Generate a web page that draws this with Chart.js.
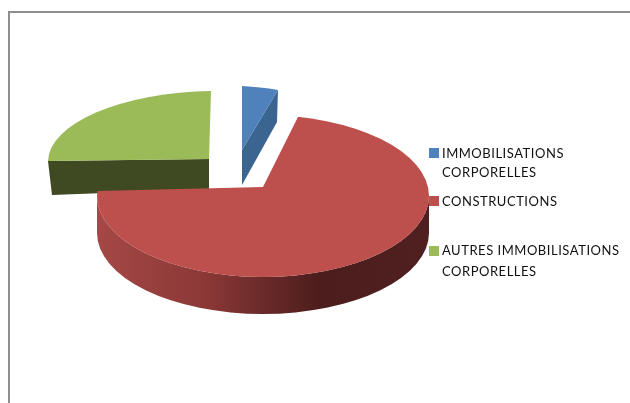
<!DOCTYPE html>
<html><head><meta charset="utf-8">
<style>html,body{margin:0;padding:0;background:#fff}canvas{display:block;filter:blur(0.4px)}</style>
<script src="https://cdn.jsdelivr.net/npm/chart.js@4"></script>
</head><body><canvas id="c" width="630" height="403"></canvas>
<script>
const categories = ['IMMOBILISATIONS CORPORELLES', 'CONSTRUCTIONS', 'AUTRES IMMOBILISATIONS CORPORELLES'];
const legendLines = [['IMMOBILISATIONS', 'CORPORELLES'], ['CONSTRUCTIONS'], ['AUTRES IMMOBILISATIONS', 'CORPORELLES']];
const values = [3.5, 71.5, 25];
const colors = ['#4F81BD', '#BD4F4C', '#9BBB59'];

// Projection of each exploded slice: apex, image of the x and y unit vectors, extruded depth
const proj = [
  {a:[242,150], ex:[165,11], ey:[0,64], depth:35, side:'#3A6591'},
  {a:[263,187], ex:[249,-6], ey:[0,110], depth:37, clip:{cx:263,cy:196,rx:166,ry:81}},
  {a:[209,159], ex:[161,-2], ey:[-2,68], depth:34, side:'#404A22'}
];
const legendPos = [
  {box:148, base:[158,177]},
  {box:196, base:[206]},
  {box:246, base:[255,276]}
];

function drawTop(ctx, arc, p){
  ctx.save();
  if (p.clip){ ctx.beginPath(); ctx.ellipse(p.clip.cx,p.clip.cy,p.clip.rx,p.clip.ry,0,0,Math.PI*2); ctx.clip(); }
  const r = arc.outerRadius;
  ctx.transform(p.ex[0]/r,p.ex[1]/r,p.ey[0]/r,p.ey[1]/r,p.a[0],p.a[1]);
  ctx.translate(-arc.x,-arc.y);
  arc.draw(ctx);
  ctx.restore();
}
function rim(p, angle){
  const c=Math.cos(angle), s=Math.sin(angle);
  return [p.a[0]+p.ex[0]*c+p.ey[0]*s, p.a[1]+p.ex[1]*c+p.ey[1]*s];
}
const pie3d = {
  id:'pie3d',
  beforeDatasetsDraw(chart){
    const ctx = chart.ctx, arcs = chart.getDatasetMeta(0).data;
    // frame
    ctx.save();
    ctx.fillStyle='#8E8E8E';
    ctx.fillRect(8,11,622,2);
    ctx.fillRect(8,11,2,392);
    // green: cut face at its start edge, then top
    const g=proj[2], gr=rim(g,arcs[2].startAngle);
    ctx.fillStyle=g.side;
    ctx.beginPath();
    ctx.moveTo(gr[0],gr[1]); ctx.lineTo(gr[0]+4,gr[1]+g.depth);
    ctx.lineTo(g.a[0],g.a[1]+30); ctx.lineTo(g.a[0],g.a[1]); ctx.closePath(); ctx.fill();
    drawTop(ctx,arcs[2],g);
    // blue: cut face at its end edge, then top
    const b=proj[0], br=rim(b,arcs[0].endAngle);
    ctx.fillStyle=b.side;
    ctx.beginPath();
    ctx.moveTo(br[0],br[1]); ctx.lineTo(br[0]-1,br[1]+32);
    ctx.lineTo(b.a[0],b.a[1]+b.depth); ctx.lineTo(b.a[0],b.a[1]); ctx.closePath(); ctx.fill();
    drawTop(ctx,arcs[0],b);
    // red: curved wall, then top
    const p=proj[1], e=p.clip;
    const grad=ctx.createLinearGradient(e.cx-e.rx,0,e.cx+e.rx,0);
    grad.addColorStop(0,'#A54846'); grad.addColorStop(0.33,'#8A3836');
    grad.addColorStop(0.67,'#4B1D1C'); grad.addColorStop(1,'#4F201F');
    ctx.fillStyle=grad;
    ctx.beginPath();
    ctx.ellipse(e.cx,e.cy,e.rx,e.ry,0,0,Math.PI);
    ctx.ellipse(e.cx,e.cy+p.depth,e.rx,e.ry,0,Math.PI,0,true);
    ctx.closePath(); ctx.fill();
    drawTop(ctx,arcs[1],p);
    // legend
    ctx.font='13px Lato';
    ctx.letterSpacing='0.53px';
    ctx.textBaseline='alphabetic';
    legendLines.forEach((lines,i)=>{
      ctx.fillStyle=colors[i];
      ctx.fillRect(429,legendPos[i].box,10,10);
      ctx.fillStyle='#111';
      lines.forEach((t,j)=>ctx.fillText(t,442,legendPos[i].base[j]));
    });
    ctx.restore();
    return false;
  }
};
new Chart(document.getElementById('c'),{
  type:'pie',
  data:{labels:categories,datasets:[{data:values,backgroundColor:colors,borderWidth:0}]},
  options:{responsive:false,animation:false,plugins:{legend:{display:false},tooltip:{enabled:false}}},
  plugins:[pie3d]
});
</script></body></html>
